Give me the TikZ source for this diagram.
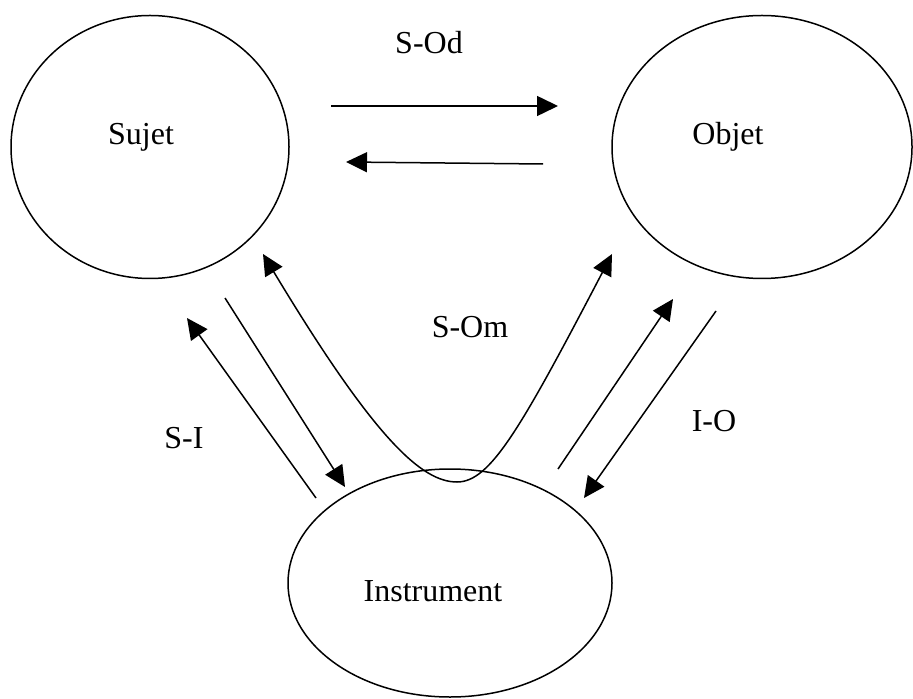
\documentclass[tikz,border=0pt]{standalone}
\usepackage{fontspec}
\setmainfont{Liberation Serif}
\usetikzlibrary{arrows.meta,shapes.geometric}

\tikzset{
  bigtip/.tip={Triangle[length=10.5pt,width=10pt]},
  pole/.style={draw, ellipse, inner sep=0pt, line width=0.75pt},
  lbl/.style={anchor=base, font=\fontsize{16}{19}\selectfont},
  rel/.style={line width=0.75pt, -bigtip},
  relboth/.style={line width=0.75pt, bigtip-bigtip},
}

\begin{document}
\begin{tikzpicture}[x=0.5pt, y=-0.5pt]
    \useasboundingbox (0,0) rectangle (913,699);

    % The three poles (ellipses)
    \node[pole, minimum width=139pt, minimum height=131.5pt] (sujet) at (150,147) {};
    \node[pole, minimum width=150pt, minimum height=131.5pt] (objet) at (762,147) {};
    \node[pole, minimum width=162pt, minimum height=114pt] (instr) at (450,583) {};

    % Pole names
    \node[lbl] (tsujet) at (141,145) {Sujet};
    \node[lbl] (tobjet) at (728,145) {Objet};
    \node[lbl] (tinstr) at (433,601) {Instrument};

    % Free ends of the relations
    \coordinate (od1) at (331,106);
    \coordinate (od2) at (558,106);
    \coordinate (do1) at (543,164);
    \coordinate (do2) at (346,162);
    \coordinate (si1) at (316,498);
    \coordinate (si2) at (187,318);
    \coordinate (is1) at (225,298);
    \coordinate (is2) at (345,487);
    \coordinate (om1) at (263,254);
    \coordinate (omb) at (457,482);
    \coordinate (om2) at (612,254);
    \coordinate (io1) at (558,469);
    \coordinate (io2) at (673,299);
    \coordinate (oi1) at (716,311);
    \coordinate (oi2) at (584,498);

    % Direct relation S-Od
    \draw[rel] (od1) -- (od2);
    \draw[rel] (do1) -- (do2);
    \node[lbl] (lod) at (429,54) {S-Od};

    % S-I
    \draw[rel] (si1) -- (si2);
    \draw[rel] (is1) -- (is2);
    \node[lbl] (lsi) at (184,448) {S-I};

    % Mediated relation S-Om (through the instrument)
    \draw[relboth] (om1) .. controls (375,440) and (422,482) .. (omb)
                         .. controls (490,482) and (520,430) .. (om2);
    \node[lbl] (lom) at (470,337) {S-Om};

    % I-O
    \draw[rel] (io1) -- (io2);
    \draw[rel] (oi1) -- (oi2);
    \node[lbl] (lio) at (714,431) {I-O};
\end{tikzpicture}
\end{document}
